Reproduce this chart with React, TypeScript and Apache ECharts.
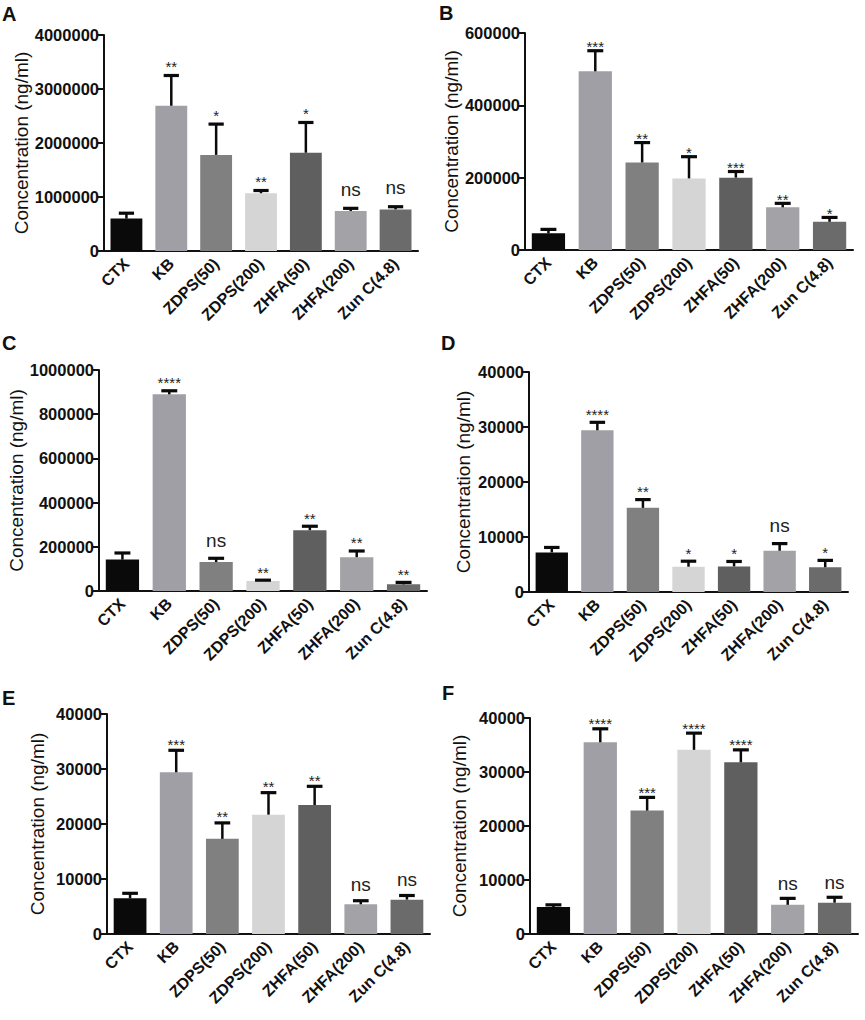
import React, { useEffect, useRef } from "react";
import * as echarts from "echarts";

const categories = ["CTX", "KB", "ZDPS(50)", "ZDPS(200)", "ZHFA(50)", "ZHFA(200)", "Zun C(4.8)"];
const barColors = ["#0a0a0a", "#a09fa5", "#808080", "#d5d5d5", "#5f5f5f", "#a3a2a7", "#6b6b6b"];

const meansA = [600000, 2690000, 1780000, 1070000, 1820000, 740000, 770000];
const semA = [100000, 560000, 570000, 50000, 560000, 50000, 50000];
const sigA = ["", "**", "*", "**", "*", "ns", "ns"];

const meansB = [46000, 494000, 242000, 198000, 200000, 118000, 78000];
const semB = [11000, 57000, 55000, 60000, 17000, 11000, 12000];
const sigB = ["", "***", "**", "*", "***", "**", "*"];

const meansC = [142000, 890000, 131000, 45000, 275000, 153000, 30000];
const semC = [30000, 16000, 17000, 4000, 18000, 28000, 9000];
const sigC = ["", "****", "ns", "**", "**", "**", "**"];

const meansD = [7200, 29400, 15300, 4600, 4650, 7500, 4500];
const semD = [900, 1450, 1500, 1000, 900, 1300, 1250];
const sigD = ["", "****", "**", "*", "*", "ns", "*"];

const meansE = [6500, 29400, 17300, 21700, 23450, 5400, 6250];
const semE = [900, 4000, 2900, 4000, 3400, 650, 750];
const sigE = ["", "***", "**", "**", "**", "ns", "ns"];

const meansF = [5000, 35500, 22850, 34100, 31800, 5400, 5800];
const semF = [400, 2500, 2450, 3100, 2300, 1200, 1000];
const sigF = ["", "****", "***", "****", "****", "ns", "ns"];

const yMax = [4000000, 600000, 1000000, 40000, 40000, 40000];
const yStep = [1000000, 200000, 200000, 10000, 10000, 10000];
const panelLetters = ["A", "B", "C", "D", "E", "F"];

const FONT = "Liberation Sans, Arial, Helvetica, sans-serif";

const panels = [
  { means: meansA, sem: semA, sig: sigA, grid: { left: 104, top: 35, width: 314, height: 216 }, nameGap: 73, gap: 13, letter: [2, 4] },
  { means: meansB, sem: semB, sig: sigB, grid: { left: 525, top: 33, width: 328, height: 217 }, nameGap: 60, gap: 8, letter: [439, 3] },
  { means: meansC, sem: semC, sig: sigC, grid: { left: 99, top: 370, width: 328, height: 221 }, nameGap: 72, gap: 12, letter: [2, 333] },
  { means: meansD, sem: semD, sig: sigD, grid: { left: 529, top: 372, width: 319, height: 220 }, nameGap: 56, gap: 12, letter: [441, 333] },
  { means: meansE, sem: semE, sig: sigE, grid: { left: 107, top: 714, width: 323, height: 220 }, nameGap: 60, gap: 10, letter: [2, 688] },
  { means: meansF, sem: semF, sig: sigF, grid: { left: 530, top: 718, width: 328, height: 216 }, nameGap: 61, gap: 9, letter: [442, 683] },
];

function buildOption() {
  const grid: any[] = [];
  const xAxis: any[] = [];
  const yAxis: any[] = [];
  const series: any[] = [];
  const graphic: any[] = [];

  panels.forEach((p, i) => {
    grid.push({ ...p.grid, containLabel: false });
    xAxis.push({
      type: "category",
      gridIndex: i,
      data: categories,
      axisLine: { lineStyle: { color: "#111", width: 2 } },
      axisTick: { alignWithLabel: true, length: 6, lineStyle: { color: "#111", width: 2 } },
      axisLabel: {
        rotate: 45,
        interval: 0,
        margin: 10,
        color: "#111",
        fontWeight: "bold",
        fontSize: 16,
        fontFamily: FONT,
      },
      splitLine: { show: false },
    });
    yAxis.push({
      type: "value",
      gridIndex: i,
      min: 0,
      max: yMax[i],
      interval: yStep[i],
      name: "Concentration (ng/ml)",
      nameLocation: "middle",
      nameGap: p.nameGap,
      nameTextStyle: { color: "#111", fontSize: 19, fontFamily: FONT },
      axisLine: { show: true, lineStyle: { color: "#111", width: 2 } },
      axisTick: { show: true, length: 6, lineStyle: { color: "#111", width: 2 } },
      axisLabel: {
        color: "#111",
        fontWeight: "bold",
        fontSize: 16.5,
        fontFamily: FONT,
        margin: 5,
        formatter: (v: number) => String(v),
      },
      splitLine: { show: false },
    });
    series.push({
      type: "bar",
      xAxisIndex: i,
      yAxisIndex: i,
      barCategoryGap: "29%",
      data: p.means.map((v, j) => ({ value: v, itemStyle: { color: barColors[j] } })),
      z: 2,
    });
    const gap = p.gap;
    series.push({
      type: "custom",
      xAxisIndex: i,
      yAxisIndex: i,
      z: 5,
      itemStyle: { color: "#222" },
      data: p.means.map((v, j) => [j, v, v + p.sem[j], j]),
      renderItem: (params: any, api: any) => {
        const idx = api.value(3);
        const base = api.coord([api.value(0), api.value(1)]);
        const top = api.coord([api.value(0), api.value(2)]);
        const bw = api.size([1, 0])[0];
        const half = bw * 0.17;
        const s = p.sig[idx];
        const children: any[] = [
          {
            type: "line",
            shape: { x1: base[0], y1: base[1], x2: top[0], y2: top[1] },
            style: { stroke: "#0a0a0a", lineWidth: 2.5 },
          },
          {
            type: "line",
            shape: { x1: top[0] - half, y1: top[1], x2: top[0] + half, y2: top[1] },
            style: { stroke: "#0a0a0a", lineWidth: 3.2 },
          },
        ];
        if (s) {
          const isNs = s === "ns";
          children.push({
            type: "text",
            x: top[0],
            y: isNs ? top[1] - gap - 6 : top[1] - gap + 4,
            style: {
              text: s,
              fill: "#222222",
              stroke: "none",
              lineWidth: 0,
              fontSize: isNs ? 19 : 15,
              fontFamily: FONT,
              align: "center",
              verticalAlign: "middle",
            },
          });
        }
        return { type: "group", children };
      },
    });
    graphic.push({
      type: "text",
      left: p.letter[0],
      top: p.letter[1],
      style: { text: panelLetters[i], fill: "#111", fontSize: 20, fontWeight: "bold", fontFamily: FONT },
    });
  });

  return {
    animation: false,
    backgroundColor: "#ffffff",
    grid,
    xAxis,
    yAxis,
    series,
    graphic,
  };
}

export default function App() {
  const ref = useRef<HTMLDivElement>(null);
  useEffect(() => {
    if (!ref.current) return;
    const chart = echarts.init(ref.current, null, { renderer: "svg" });
    chart.setOption(buildOption() as any);
    return () => chart.dispose();
  }, []);
  return (
    <div
      ref={ref}
      style={{ position: "absolute", left: 0, top: 0, width: 865, height: 1020, background: "#fff" }}
    />
  );
}
